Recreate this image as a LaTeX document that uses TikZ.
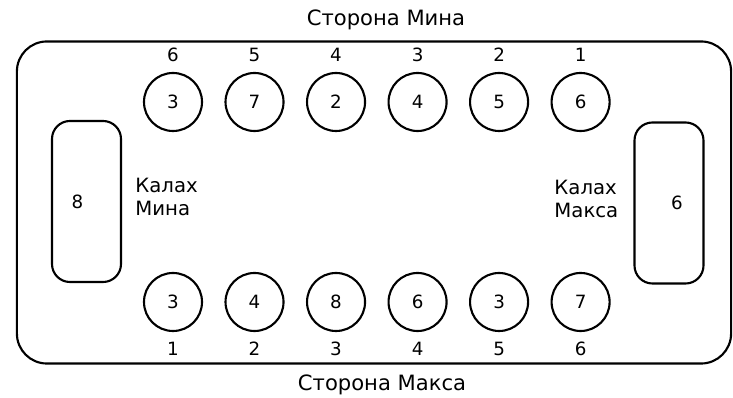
\documentclass[tikz,border=0pt]{standalone}
\usepackage{fontspec}
\setmainfont{DejaVu Sans}
\usetikzlibrary{positioning}

\begin{document}
\begin{tikzpicture}[x=0.025cm,y=-0.025cm,line width=1.5pt,node distance=2.0375cm,
    label distance=0.19cm,font=\fontsize{14}{16.5}\selectfont]
\tikzstyle{board}=[rectangle,draw,rounded corners=0.75cm,minimum width=17.85cm,minimum height=8.05cm]
\tikzstyle{side}=[font=\fontsize{15}{17}\selectfont]
\tikzstyle{pit}=[circle,draw,minimum size=1.45cm,inner sep=0pt,font=\fontsize{13}{15}\selectfont]
\tikzstyle{kalah}=[rectangle,draw,rounded corners=0.45cm,minimum width=1.725cm,minimum height=4.025cm]
\tikzstyle{caption}=[align=left]
\tikzstyle{every label}=[inner sep=1pt,font=\fontsize{13}{15}\selectfont]

\useasboundingbox (0,0) rectangle (733,398);

\node[board] (board) at (374,202.5) {};
\node[side] (sideMin) at (386,20) {Сторона Мина};
\node[side] (sideMax) at (382,385) {Сторона Макса};

% Min's pits, counted from the right
\node[pit,label=above:6] (min6) at (173,102) {3};
\node[pit,label=above:5] (min5) [right of=min6] {7};
\node[pit,label=above:4] (min4) [right of=min5] {2};
\node[pit,label=above:3] (min3) [right of=min4] {4};
\node[pit,label=above:2] (min2) [right of=min3] {5};
\node[pit,label=above:1] (min1) [right of=min2] {6};

% Max's pits, counted from the left
\node[pit,label=below:1] (max1) at (173,302) {3};
\node[pit,label=below:2] (max2) [right of=max1] {4};
\node[pit,label=below:3] (max3) [right of=max2] {8};
\node[pit,label=below:4] (max4) [right of=max3] {6};
\node[pit,label=below:5] (max5) [right of=max4] {3};
\node[pit,label=below:6] (max6) [right of=max5] {7};

% the two stores
\node[kalah,label={[xshift=-0.225cm]center:8}] (kalahMin) at (86.5,201.5) {};
\node[kalah,label={[xshift=0.2cm]center:6}] (kalahMax) at (669,203) {};
\node[caption,right=0.19cm of kalahMin,yshift=0.11cm] (capMin) {Калах\\Мина};
\node[caption,left=0.235cm of kalahMax,yshift=0.1cm] (capMax) {Калах\\Макса};
\end{tikzpicture}
\end{document}
